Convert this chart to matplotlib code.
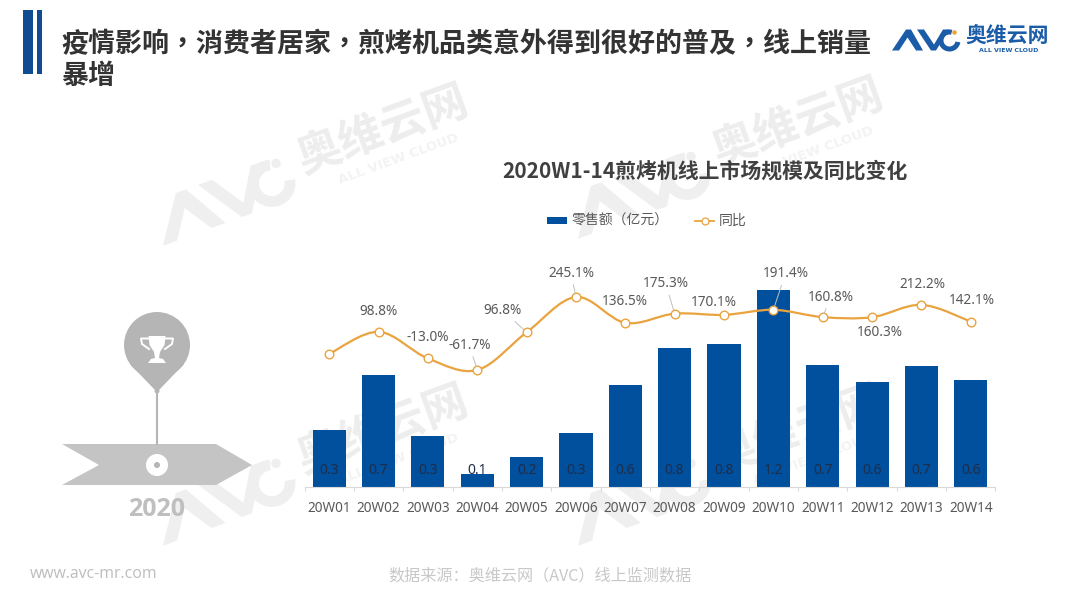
import numpy as np
import matplotlib
matplotlib.use("Agg")
import matplotlib.pyplot as plt
from matplotlib.patches import Polygon, Circle, PathPatch, Patch
from matplotlib.path import Path
from matplotlib.lines import Line2D
from matplotlib.transforms import Affine2D

plt.rcParams['font.family'] = ['Noto Sans CJK SC', 'DejaVu Sans']
LATIN = 'Noto Sans'

# ---- data ----
weeks = ['20W01', '20W02', '20W03', '20W04', '20W05', '20W06', '20W07',
         '20W08', '20W09', '20W10', '20W11', '20W12', '20W13', '20W14']
sales = [0.35, 0.68, 0.31, 0.082, 0.18, 0.33, 0.62,
         0.845, 0.87, 1.2, 0.745, 0.64, 0.735, 0.65]
sales_labels = ['0.3', '0.7', '0.3', '0.1', '0.2', '0.3', '0.6',
                '0.8', '0.8', '1.2', '0.7', '0.6', '0.7', '0.6']
yoy = [6.0, 98.8, -13.0, -61.7, 96.8, 245.1, 136.5,
       175.3, 170.1, 191.4, 160.8, 160.3, 212.2, 142.1]
yoy_labels = [None, '98.8%', '-13.0%', '-61.7%', '96.8%', '245.1%', '136.5%',
              '175.3%', '170.1%', '191.4%', '160.8%', '160.3%', '212.2%', '142.1%']

# label placement, pixels from the marker (x right, y up)
label_dx = [0, 0, 0, -8, -24, -5, 0, -9, -10, 12, 8, 8, 1, 1]
label_dy = [0, 20, 21, 25, 22, 24, 21, 30, 12, 36, 20, -15, 20, 21]
has_leader = [False, False, False, True, True, True, False,
              True, False, True, True, False, False, False]

BLUE = '#01509E'
ORANGE = '#E9A33F'
TXT = '#595959'
W, H = 1080, 608

fig = plt.figure(figsize=(W / 100, H / 100), dpi=100, facecolor='white')

# ---- pixel overlay for slide furniture ----
bg = fig.add_axes([0, 0, 1, 1], zorder=0)
bg.set_xlim(0, W)
bg.set_ylim(H, 0)
bg.axis('off')


def logo(ox, oy, s, rot, c_main, c_dot, c_text, c_sub, z):
    tr = Affine2D().scale(s).rotate_deg(-rot).translate(ox, oy)
    a = [(-1, 0), (13, -21), (18, -21), (30, 0), (23, 0), (14.5, -13), (6, 0)]
    v = [(24, -21), (31, -21), (41, -6), (50, -21), (56, -21), (43, 0), (38, 0)]
    ang = np.radians(np.linspace(10, 285, 50))
    cx, cy = 56.5, -10
    arc = np.r_[np.c_[cx + 11 * np.cos(ang), cy + 11 * np.sin(ang)],
                np.c_[cx + 6 * np.cos(ang[::-1]), cy + 6 * np.sin(ang[::-1])]]
    for pts in (a, v, arc):
        bg.add_patch(Polygon(tr.transform(np.array(pts)), closed=True, fc=c_main, ec='none', zorder=z))
    dot = tr.transform([(61.5, -18)])[0]
    bg.add_patch(Circle(dot, 2.2 * s, fc=c_dot, ec='none', zorder=z))
    p = tr.transform([(72, -15.5)])[0]
    bg.text(p[0], p[1], '奥维云网', fontsize=15 * s, fontweight='bold', color=c_text,
            rotation=rot, rotation_mode='anchor', ha='left', va='center', zorder=z)
    p = tr.transform([(86, -0.5)])[0]
    bg.text(p[0], p[1], 'ALL VIEW CLOUD', fontsize=4.5 * s, fontweight='bold', color=c_sub,
            family='DejaVu Sans', rotation=rot, rotation_mode='anchor', ha='left', va='center', zorder=z)


for ox, oy in [(165, 245), (580, 238), (165, 545), (580, 545)]:
    logo(ox, oy, 2.15, 20, '#EFEFEF', '#EFEFEF', '#EDEDED', '#F3F3F3', 1)
logo(893, 50.5, 1.0, 0, '#1B5CA8', '#F0A030', '#1B5CA8', '#1B5CA8', 3)

# header
bg.add_patch(Polygon([(23, 10), (33, 10), (33, 74), (23, 74)], fc='#0F4C92', ec='none', zorder=3))
bg.add_patch(Polygon([(37, 10), (42, 10), (42, 74), (37, 74)], fc='#0F4C92', ec='none', zorder=3))
bg.text(61, 44.5, '疫情影响，消费者居家，煎烤机品类意外得到很好的普及，线上销量',
        fontsize=19.45, fontweight='bold', color='#333333', ha='left', va='center', zorder=3,
        family='Noto Sans CJK TC')
bg.text(61, 76, '暴增', fontsize=19.45, fontweight='bold', color='#333333', ha='left', va='center', zorder=3)

# timeline graphic
G1, G2 = '#B5B5B5', '#C4C4C4'
bg.add_patch(Polygon([(62, 444), (216, 444), (252, 465), (216, 485), (62, 485), (99, 465)],
                     fc=G2, ec='none', zorder=2))
bg.plot([157, 157], [390, 444], color=G1, lw=1.5, zorder=2)
bg.add_patch(Circle((157, 345), 33, fc=G1, ec='none', zorder=2))
bg.add_patch(Polygon([(130, 364), (184, 364), (160, 389), (157, 392), (154, 389)], fc=G1, ec='none', zorder=2))
bg.add_patch(Circle((157, 391), 2.5, fc=G1, ec='none', zorder=2))
bg.add_patch(Circle((157, 465), 11, fc='white', ec='none', zorder=3))
bg.add_patch(Circle((157, 465), 3, fc=G1, ec='none', zorder=4))
bg.text(157, 510, '2020', fontsize=18, fontweight='bold', color='#BFBFBF', ha='center', va='center',
        family='Open Sans', zorder=3)

# trophy
bg.add_patch(Polygon([(148.5, 336), (165.5, 336), (164.5, 345), (160, 352), (159, 358), (163, 359),
                      (166, 363), (148, 363), (151, 359), (155, 358), (154, 352), (149.5, 345)],
                     fc='white', ec='none', zorder=3))
for sgn in (-1, 1):
    bg.plot([157 + sgn * 8, 157 + sgn * 16, 157 + sgn * 15, 157 + sgn * 8],
            [338.5, 338.5, 344, 349], color='white', lw=1.4, zorder=3)

# footer
bg.text(30, 574, 'www.avc-mr.com', fontsize=11.45, color='#BDBDBD', family='Open Sans',
        ha='left', va='center', zorder=3)
bg.text(540, 576, '数据来源：奥维云网（AVC）线上监测数据', fontsize=11.6, color='#C8C8C8',
        ha='center', va='center', zorder=3)

# ---- chart ----
left, right, top, bottom = 304.6, 995.4, 250, 487
ax = fig.add_axes([left / W, 1 - bottom / H, (right - left) / W, (bottom - top) / H], zorder=2)
ax.patch.set_alpha(0)
x = np.arange(len(weeks))
bars = ax.bar(x, sales, width=0.67, color=BLUE, zorder=2)
ax.set_xlim(-0.5, len(weeks) - 0.5)
ax.set_ylim(0, 1.445)
ax.set_yticks([])
for s in ('left', 'right', 'top'):
    ax.spines[s].set_visible(False)
ax.spines['bottom'].set_color('#D9D9D9')
ax.set_xticks(x)
ax.set_xticklabels(weeks, fontsize=9.8, color=TXT, family=LATIN)
ax.tick_params(axis='x', which='major', length=0, pad=10)
ax.set_xticks(np.arange(-0.5, len(weeks)), minor=True)
ax.tick_params(axis='x', which='minor', length=3, color='#D9D9D9', width=0.8)

for xi, lab in zip(x, sales_labels):
    ax.annotate(lab, (xi, 0), xytext=(0, 16), textcoords='offset pixels', ha='center', va='center',
                fontsize=10, color='#1F2D49', family=LATIN, zorder=3)

ax2 = ax.twinx()
ax2.patch.set_alpha(0)
ax2.set_ylim(-553, 442.6)
ax2.axis('off')

# smooth curve through the series (Catmull-Rom style Bezier, as in Excel)
pts = np.c_[x, yoy].astype(float)
verts, codes = [pts[0]], [Path.MOVETO]
for i in range(len(pts) - 1):
    p0 = pts[max(i - 1, 0)]
    p1, p2 = pts[i], pts[i + 1]
    p3 = pts[min(i + 2, len(pts) - 1)]
    verts += [p1 + (p2 - p0) / 6, p2 - (p3 - p1) / 6, p2]
    codes += [Path.CURVE4] * 3
ax2.add_patch(PathPatch(Path(verts, codes), fc='none', ec=ORANGE, lw=1.6, zorder=3))
ax2.plot(x, yoy, ls='none', marker='o', ms=6.2, mfc='white', mec=ORANGE, mew=1.0, zorder=4)

for xi, yi, lab, dx, dy, lead in zip(x, yoy, yoy_labels, label_dx, label_dy, has_leader):
    if lab is None:
        continue
    ax2.annotate(lab, (xi, yi), xytext=(dx, dy), textcoords='offset pixels', ha='center', va='center',
                 fontsize=9.8, color=TXT, family=LATIN, zorder=5,
                 arrowprops=dict(arrowstyle='-', color='#BFBFBF', lw=0.7, shrinkA=1, shrinkB=3) if lead else None)

fig.text(705 / W, 1 - 171 / H, '2020W1-14煎烤机线上市场规模及同比变化', fontsize=15, fontweight='bold',
         color='#404040', ha='center', va='center', zorder=5)

handles = [Patch(fc=BLUE, ec='none'),
           Line2D([], [], color=ORANGE, lw=1.3, marker='o', ms=5, mfc='white', mec=ORANGE, mew=0.9)]
fig.legend(handles, ['零售额（亿元）', '同比'], ncols=2, frameon=False, fontsize=10,
           labelcolor=TXT, loc='center', bbox_to_anchor=(647 / W, 1 - 221 / H),
           handlelength=1.4, handleheight=0.4, handletextpad=0.35, columnspacing=1.9, borderpad=0)

fig.savefig('out.png', dpi=100)
